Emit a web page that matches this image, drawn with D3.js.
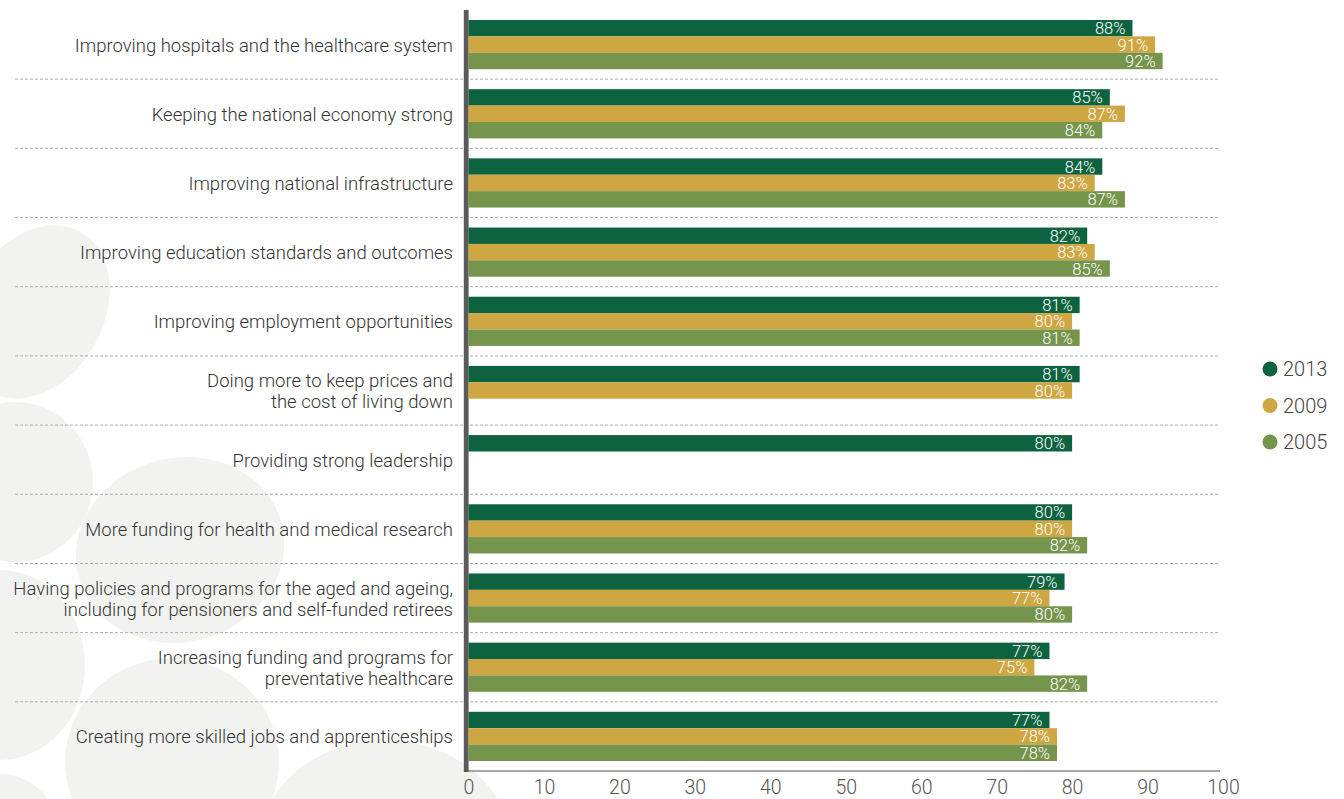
<!DOCTYPE html>
<html>
<head>
<meta charset="utf-8">
<script src="https://cdn.jsdelivr.net/npm/d3@7"></script>
<style>
  html, body { margin: 0; padding: 0; background: #ffffff; }
  svg { display: block; }
  text { font-family: Roboto, "Open Sans", sans-serif; font-weight: 300; }
</style>
</head>
<body>
<svg id="chart" width="1344" height="799"></svg>
<script>
// Priority issues, share of respondents rating each as important
const categories = [
  "Improving hospitals and the healthcare system",
  "Keeping the national economy strong",
  "Improving national infrastructure",
  "Improving education standards and outcomes",
  "Improving employment opportunities",
  "Doing more to keep prices and\nthe cost of living down",
  "Providing strong leadership",
  "More funding for health and medical research",
  "Having policies and programs for the aged and ageing,\nincluding for pensioners and self-funded retirees",
  "Increasing funding and programs for\npreventative healthcare",
  "Creating more skilled jobs and apprenticeships"
];
const seriesNames = ["2013", "2009", "2005"];
const values2013 = [88, 85, 84, 82, 81, 81, 80, 80, 79, 77, 77];
const values2009 = [91, 87, 83, 83, 80, 80, null, 80, 77, 75, 78];
const values2005 = [92, 84, 87, 85, 81, null, null, 82, 80, 82, 78];
const xTicks = [0, 10, 20, 30, 40, 50, 60, 70, 80, 90, 100];

const seriesColors = ["#0d633f", "#cea642", "#75944c"];
const seriesValues = [values2013, values2009, values2005];

const svg = d3.select("#chart");

// soft decorative blobs in the lower-left background
const blobs = [
  { cx: 35, cy: 312, rx: 68, ry: 92, rot: 30 },
  { cx: 15, cy: 482, rx: 78, ry: 80, rot: 0 },
  { cx: 180, cy: 550, rx: 105, ry: 92, rot: -15 },
  { cx: 0, cy: 665, rx: 85, ry: 95, rot: 0 },
  { cx: 172, cy: 762, rx: 107, ry: 104, rot: 0 },
  { cx: 385, cy: 852, rx: 128, ry: 112, rot: 0 },
  { cx: 0, cy: 832, rx: 58, ry: 58, rot: 0 }
];
svg.append("g").selectAll("ellipse").data(blobs).join("ellipse")
  .attr("transform", d => `translate(${d.cx},${d.cy}) rotate(${d.rot})`)
  .attr("rx", d => d.rx).attr("ry", d => d.ry)
  .attr("fill", "#f2f3f0");

const x = d3.scaleLinear().domain([0, 100]).range([468.5, 1223]);
const y = d3.scaleBand().domain(d3.range(categories.length)).range([10, 771]);
const ySub = d3.scaleBand().domain(d3.range(seriesNames.length)).range([10, y.bandwidth() - 10]);

// dotted separators between categories
svg.append("g").selectAll("line").data(d3.range(1, categories.length)).join("line")
  .attr("x1", 15).attr("x2", 1220)
  .attr("y1", i => y(i)).attr("y2", i => y(i))
  .attr("stroke", "#acacac").attr("stroke-width", 1)
  .attr("stroke-dasharray", "3,2");

// bottom axis
const xAxis = d3.axisBottom(x).tickValues(xTicks).tickSize(0).tickPadding(9);
const axisG = svg.append("g").attr("transform", "translate(0,771)").call(xAxis);
axisG.select(".domain").attr("stroke", "#8a8a8a").attr("stroke-width", 1.5)
  .attr("d", `M464,0H1220`);
axisG.selectAll(".tick text")
  .attr("font-size", 19.5).attr("fill", "#555")
  .attr("font-family", "Roboto, sans-serif").attr("font-weight", 300);

// vertical baseline
svg.append("rect").attr("x", 463.8).attr("y", 10).attr("width", 4.8).attr("height", 762)
  .attr("fill", "#5a5a5a");

// bars
const rows = [];
categories.forEach((c, i) => {
  seriesValues.forEach((vals, s) => {
    if (vals[i] != null) rows.push({ i, s, v: vals[i] });
  });
});

const barG = svg.append("g");
barG.selectAll("rect").data(rows).join("rect")
  .attr("x", x(0))
  .attr("y", d => y(d.i) + ySub(d.s))
  .attr("width", d => x(d.v) - x(0))
  .attr("height", ySub.bandwidth())
  .attr("fill", d => seriesColors[d.s]);

barG.selectAll("text").data(rows).join("text")
  .attr("x", d => x(d.v) - 7)
  .attr("y", d => y(d.i) + ySub(d.s) + ySub.bandwidth() / 2 + 6)
  .attr("text-anchor", "end")
  .attr("font-size", 16.5)
  .attr("fill", "#ffffff")
  .text(d => d.v + "%");

// category labels
const lineH = 21;
const labelG = svg.append("g");
categories.forEach((c, i) => {
  const lines = c.split("\n");
  const cy = y(i) + y.bandwidth() / 2;
  const first = cy + 7 - (lines.length - 1) * lineH / 2;
  const t = labelG.append("text")
    .attr("x", 453).attr("text-anchor", "end")
    .attr("font-size", 18.5).attr("fill", "#333");
  lines.forEach((ln, k) => {
    t.append("tspan").attr("x", 453).attr("y", first + k * lineH).text(ln);
  });
});

// legend
const legendG = svg.append("g");
seriesNames.forEach((name, s) => {
  const ly = 369 + s * 36.5;
  legendG.append("circle").attr("cx", 1270).attr("cy", ly).attr("r", 7.5)
    .attr("fill", seriesColors[s]);
  legendG.append("text").attr("x", 1283).attr("y", ly + 7)
    .attr("font-size", 20).attr("fill", "#444").text(name);
});
</script>
</body>
</html>
